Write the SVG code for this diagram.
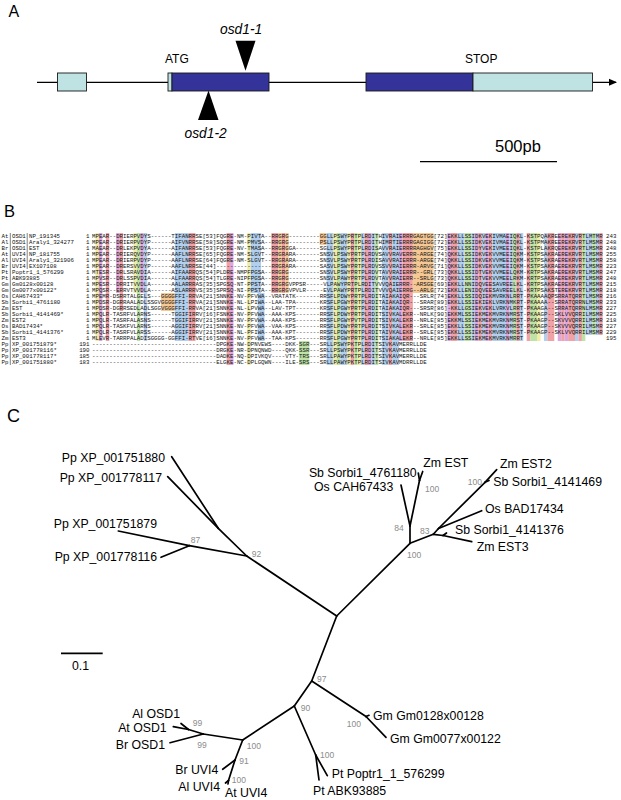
<svg xmlns="http://www.w3.org/2000/svg" width="621" height="800" viewBox="0 0 621 800">
<style>
.pl{font-family:"Liberation Sans",Arial,sans-serif;font-size:16px;fill:#000}
.ga{font-family:"Liberation Sans",Arial,sans-serif;font-size:12px;fill:#000}
.it{font-family:"Liberation Sans",Arial,sans-serif;font-size:13.8px;font-style:italic;fill:#000}
.lbl{font-family:"Liberation Sans",Arial,sans-serif;font-size:12.3px;fill:#000}
.bs{font-family:"Liberation Sans",Arial,sans-serif;font-size:8.5px;fill:#8c8c8c}
.sq{font-family:"Liberation Mono","Courier New",monospace;font-size:5.75px;fill:#111}
.br{stroke:#000;stroke-width:1.7;fill:none;stroke-linecap:round}
.ex{stroke:#1a1a1a;stroke-width:0.9}
.dk{fill:#333399}.lt{fill:#bfe2e2}
.r{fill:#f0a2a6}.b{fill:#b2cfee}.g{fill:#bfe3a6}.m{fill:#dea6de}.y{fill:#f1eda2}.o{fill:#f5c894}
</style>
<defs>
<marker id="ah" markerWidth="8" markerHeight="8" refX="7" refY="4" orient="auto" markerUnits="userSpaceOnUse"><path d="M0,0.5 L8,4 L0,7.5 Z" fill="#000"/></marker>
</defs>
<rect width="621" height="800" fill="#fff"/>

<!-- Panel A -->
<text class="pl" x="8.5" y="16.7">A</text>
<g id="gene">
<line x1="37" y1="82.3" x2="616" y2="82.3" stroke="#000" stroke-width="1.2" marker-end="url(#ah)"/>
<rect class="lt ex" x="57.5" y="73" width="29" height="18"/>
<rect class="lt ex" x="168" y="73" width="4" height="18"/>
<rect class="dk ex" x="172" y="73" width="97" height="18"/>
<rect class="dk ex" x="366" y="73" width="107" height="18"/>
<rect class="lt ex" x="473" y="73" width="119.5" height="18"/>
</g>
<g id="atg"><text class="ga" x="165" y="62.7">ATG</text></g>
<g id="stop"><text class="ga" x="465" y="62.7">STOP</text></g>
<g id="osd1-1"><text class="it" x="220" y="34.3">osd1-1</text><polygon points="235.5,40.7 255.5,40.7 245.5,70.7" fill="#000"/></g>
<g id="osd1-2"><polygon points="198,120 218.5,120 208.5,90.5" fill="#000"/><text class="it" x="184.5" y="138.3">osd1-2</text></g>
<g id="scaleA"><text class="pl" x="495" y="151.7" style="font-size:16.5px">500pb</text><line x1="420" y1="161.7" x2="557" y2="161.7" stroke="#000" stroke-width="1.2"/></g>

<!-- Panel B -->
<text class="pl" x="4" y="216.7" style="font-size:16.5px">B</text>
<g id="alignment">
<g id="colours">
<rect class="y" x="95.45" y="233" width="3.45" height="108"/>
<rect class="m" x="98.9" y="233" width="3.45" height="108"/>
<rect class="r" x="105.8" y="233" width="3.45" height="108"/>
<rect class="m" x="116.15" y="233" width="3.45" height="60"/>
<rect class="r" x="119.6" y="233" width="3.45" height="78"/>
<rect class="y" x="133.4" y="233" width="3.45" height="60"/>
<rect class="g" x="136.85" y="233" width="3.45" height="108"/>
<rect class="m" x="140.3" y="233" width="3.45" height="60"/>
<rect class="b" x="143.75" y="233" width="3.45" height="108"/>
<rect class="o" x="161" y="293" width="13.8" height="18"/>
<rect class="b" x="174.8" y="233" width="13.8" height="108"/>
<rect class="r" x="188.6" y="233" width="6.9" height="108"/>
<rect class="r" x="226.55" y="233" width="3.45" height="132"/>
<rect class="m" x="230" y="233" width="3.45" height="132"/>
<rect class="y" x="247.25" y="233" width="3.45" height="132"/>
<rect class="b" x="250.7" y="233" width="10.35" height="60"/>
<rect class="b" x="257.6" y="293" width="6.9" height="48"/>
<rect class="r" x="271.4" y="233" width="6.9" height="60"/>
<rect class="o" x="278.3" y="233" width="3.45" height="60"/>
<rect class="r" x="281.75" y="233" width="3.45" height="60"/>
<rect class="o" x="285.2" y="233" width="3.45" height="60"/>
<rect class="g" x="299" y="341" width="10.35" height="24"/>
<rect class="o" x="319.7" y="233" width="6.9" height="12"/>
<rect class="b" x="326.6" y="233" width="6.9" height="132"/>
<rect class="y" x="333.5" y="233" width="3.45" height="132"/>
<rect class="g" x="336.95" y="233" width="3.45" height="132"/>
<rect class="b" x="340.4" y="233" width="6.9" height="132"/>
<rect class="y" x="347.3" y="233" width="3.45" height="132"/>
<rect class="r" x="350.75" y="233" width="3.45" height="132"/>
<rect class="g" x="354.2" y="233" width="3.45" height="132"/>
<rect class="y" x="357.65" y="233" width="3.45" height="132"/>
<rect class="b" x="361.1" y="233" width="3.45" height="132"/>
<rect class="r" x="364.55" y="233" width="3.45" height="132"/>
<rect class="m" x="368" y="233" width="3.45" height="132"/>
<rect class="b" x="371.45" y="233" width="3.45" height="132"/>
<rect class="g" x="374.9" y="233" width="3.45" height="132"/>
<rect class="b" x="381.8" y="233" width="6.9" height="132"/>
<rect class="r" x="388.7" y="233" width="3.45" height="132"/>
<rect class="b" x="392.15" y="233" width="6.9" height="132"/>
<rect class="m" x="399.05" y="233" width="3.45" height="108"/>
<rect class="r" x="402.5" y="233" width="10.35" height="108"/>
<rect class="o" x="412.85" y="233" width="20.7" height="60"/>
<rect class="m" x="447.35" y="233" width="3.45" height="108"/>
<rect class="r" x="450.8" y="233" width="6.9" height="108"/>
<rect class="b" x="457.7" y="233" width="6.9" height="108"/>
<rect class="g" x="464.6" y="233" width="6.9" height="108"/>
<rect class="b" x="471.5" y="233" width="3.45" height="108"/>
<rect class="m" x="474.95" y="233" width="3.45" height="108"/>
<rect class="r" x="478.4" y="233" width="3.45" height="108"/>
<rect class="b" x="481.85" y="233" width="3.45" height="108"/>
<rect class="m" x="485.3" y="233" width="3.45" height="108"/>
<rect class="r" x="488.75" y="233" width="3.45" height="108"/>
<rect class="b" x="492.2" y="233" width="13.8" height="108"/>
<rect class="m" x="506" y="233" width="3.45" height="108"/>
<rect class="b" x="509.45" y="233" width="3.45" height="108"/>
<rect class="g" x="512.9" y="233" width="3.45" height="108"/>
<rect class="r" x="516.35" y="233" width="3.45" height="108"/>
<rect class="b" x="519.8" y="233" width="3.45" height="108"/>
<rect class="r" x="526.7" y="233" width="3.45" height="108"/>
<rect class="g" x="530.15" y="233" width="6.9" height="108"/>
<rect class="y" x="537.05" y="233" width="3.45" height="108"/>
<rect class="b" x="543.95" y="233" width="3.45" height="108"/>
<rect class="r" x="547.4" y="233" width="6.9" height="108"/>
<rect class="m" x="557.75" y="233" width="3.45" height="108"/>
<rect class="r" x="561.2" y="233" width="3.45" height="108"/>
<rect class="m" x="564.65" y="233" width="3.45" height="108"/>
<rect class="r" x="568.1" y="233" width="6.9" height="108"/>
<rect class="b" x="575" y="233" width="3.45" height="108"/>
<rect class="r" x="578.45" y="233" width="3.45" height="108"/>
<rect class="g" x="581.9" y="233" width="3.45" height="108"/>
<rect class="b" x="585.35" y="233" width="6.9" height="102"/>
<rect class="g" x="592.25" y="233" width="3.45" height="102"/>
<rect class="b" x="595.7" y="233" width="3.45" height="102"/>
<rect class="r" x="599.15" y="233" width="3.45" height="102"/>
</g>
<line x1="10.3" y1="233" x2="10.3" y2="365" stroke="#000" stroke-width="0.5"/>
<line x1="27.2" y1="233" x2="27.2" y2="269" stroke="#000" stroke-width="0.5"/>
<g class="sq">
<text x="1.5" y="238">At</text><text x="12" y="238">OSD1</text><text x="29" y="238">NP_191345</text>
<text x="1.5" y="244">Al</text><text x="12" y="244">OSD1</text><text x="29" y="244">Araly1_324277</text>
<text x="1.5" y="250">Br</text><text x="12" y="250">OSD1</text><text x="29" y="250">EST</text>
<text x="1.5" y="256">At</text><text x="12" y="256">UVI4</text><text x="29" y="256">NP_181755</text>
<text x="1.5" y="262">Al</text><text x="12" y="262">UVI4</text><text x="29" y="262">Araly1_321906</text>
<text x="1.5" y="268">Br</text><text x="12" y="268">UVI4</text><text x="29" y="268">EX107108</text>
<text x="1.5" y="274">Pt</text><text x="12" y="274">Poptr1_1_576299</text>
<text x="1.5" y="280">Pt</text><text x="12" y="280">ABK93885</text>
<text x="1.5" y="286">Gm</text><text x="12" y="286">Gm0128x00128</text>
<text x="1.5" y="292">Gm</text><text x="12" y="292">Gm0077x00122*</text>
<text x="1.5" y="298">Os</text><text x="12" y="298">CAH67433*</text>
<text x="1.5" y="304">Sb</text><text x="12" y="304">Sorbi1_4761180</text>
<text x="1.5" y="310">Zm</text><text x="12" y="310">EST</text>
<text x="1.5" y="316">Sb</text><text x="12" y="316">Sorbi1_4141469*</text>
<text x="1.5" y="322">Zm</text><text x="12" y="322">EST2</text>
<text x="1.5" y="328">Os</text><text x="12" y="328">BAD17434*</text>
<text x="1.5" y="334">Sb</text><text x="12" y="334">Sorbi1_4141376*</text>
<text x="1.5" y="340">Zm</text><text x="12" y="340">EST3</text>
<text x="1.5" y="346">Pp</text><text x="12" y="346">XP_001751879*</text>
<text x="1.5" y="352">Pp</text><text x="12" y="352">XP_001778116*</text>
<text x="1.5" y="358">Pp</text><text x="12" y="358">XP_001778117*</text>
<text x="1.5" y="364">Pp</text><text x="12" y="364">XP_001751880*</text>
</g>
<g class="sq" text-anchor="end">
<text x="89.5" y="238">1</text><text x="89.5" y="244">1</text><text x="89.5" y="250">1</text><text x="89.5" y="256">1</text><text x="89.5" y="262">1</text><text x="89.5" y="268">1</text><text x="89.5" y="274">1</text><text x="89.5" y="280">1</text><text x="89.5" y="286">1</text><text x="89.5" y="292">1</text><text x="89.5" y="298">1</text><text x="89.5" y="304">1</text><text x="89.5" y="310">1</text><text x="89.5" y="316">1</text><text x="89.5" y="322">1</text><text x="89.5" y="328">1</text><text x="89.5" y="334">1</text><text x="89.5" y="340">1</text>
<text x="89.5" y="346">191</text><text x="89.5" y="352">190</text><text x="89.5" y="358">185</text><text x="89.5" y="364">183</text>
</g>
<g class="sq">
<text x="92" y="238">MPEAR--DRIERPVDYS------TIFANRRSE[53]FQGRE-NM-PIVTA--RRGRG---------GGLLPSWYPRTPLRDITHIVRAIERRRGAGTGG[72]EKKLLSSIDKVEKIVMAEIQKL-KSTPQAKREEREKRVRTLMTMR</text>
<text x="92" y="244">MPEAR--DRIERPVDYP------AIFVNRRSE[58]SQGRE-NM-PMVSA--RRGRG---------PSLLPSWYPRTPLRDITHIMRTIERRRGAGIGG[72]EKKLLSSIDKVEKIVMAEIQKL-KSTPMAKREEREKRVRTLMSMR</text>
<text x="92" y="250">MAEAR--DRLEKPVDYA------AIFANRRSE[53]FQGRE-NV-TMASA--RRGRGGA-------SGLLPSWYPRTPLRDISAVVRAIERRRRAGHGV[75]EKKLLSSIDYVEKIVMEEIQKL-KSTPLAKRQEREKRVRTLMSMR</text>
<text x="92" y="256">MPEAR--DRIERQVDYP------AAFLNRRSE[65]FQGRE-NM-SLGVT--RRGRARA-------SNSVLPSWYPRTPLRDVSAVVRAVERRR-ARGE[74]QKKLLSSIDKVEKVVMEEIQKM-KSTPSAKRAEREKRVRTLMSMR</text>
<text x="92" y="262">MPEAR--DRIERPVDYP------AAFLNRRSE[64]FQGRE-NM-SLGVT--RRGRARA-------SNSVLPSWYPRTPLRDISAVVRAIERRR-ARGE[74]QKKLLSSIDKVEKVVMEEIQKM-KSTPSAKRAEREKRVRTLMSMR</text>
<text x="92" y="268">MPEAR--DRERSVVDYP------AAFLNRRSE[44]----------------RRGRARA-------SASVLPSWYPRTPLRDVSSVVRAIERRR-ARVG[71]QKKLLSSIDKVEKVVMEEIQKM-KSTPSAKRAEREKRVRTLMSMR</text>
<text x="92" y="274">MTESR--DRLSRAVDIA------AIFAARRQS[54]PLDRE-NMPFPGSA--RRGRG---------SNSVLPSWYPRTPLRDVTAVVRAIERRR--GRL[73]QKKLLSSIDTVEKVVMEELQKM-KRTPSAKRAEREKRVRTLMSMR</text>
<text x="92" y="280">MPVSR--DRLSSPVDIA------ALFAARRQS[54]TLGRE-NIPFPGSA--RRGRG---------SNSVLPAWYPRTPLRDVTAVVRAIERR--SRLG[73]QKKLLSSIDTVEKVVMEELRKM-KRTPSAKRAEREKRVRTLMSMR</text>
<text x="92" y="286">MPESR--DRRITVVDLA------AALARRRAS[35]SPGSQ-NT-PPSTA--RRGRGVPPSR-----VLPAWYPRTPLRDITVVVQAIERRR--ARSGE[69]EKKLLNNIDQVEESAVREELKL-KRTPSAKRAEREKRVRTLMSMR</text>
<text x="92" y="292">MPQSR--ERRVTVVDLA------ASLARRRVS[35]SPRSQ-NI-PPSTA--RRGRGVPVLR-----EVLPAWYPRTPLRDITVVVQAIERRG--ARLG[72]EKKLLENIDQVEESAVREELKL-KRTPSAKSTEREKRVRTLMSMR</text>
<text x="92" y="298">MPEMR-DSRRTALGELS---GGGGFFI-RRVA[21]SNNKE-NV-PFVWA--VRATATK-------RRSFLPDWYPRTPLRDITAIAKAIQR---SRLR[74]EKKLLSSIDQIEKMVRKNLRRT-PKAAAAQPSRRATQRRTLMSMR</text>
<text x="92" y="304">MPDSR-DGRRAALADLSSGVGGGGFFI-RRVA[21]SNNKE-NL-LPIWA--LAA-TPA-------KRSFLPGWYPRTPLRDITAIAKAIQR---SRAR[89]EKKLLSSIEKIEKLVRKNMKRT-PKAAAA--SRRATQRRNLMSMR</text>
<text x="92" y="310">MPDSR-DGRRSEDLADLSGGVGGGFFI-RRVA[21]SNNKE-NL-LPVWA--LAV-TPT-------KRSFLPGWYPRTPLRDITAIAKAIQR---SRSR[86]-KKLLGSIEKVEKLVRKVLRRT-PKAAGA--SRRATQRRNLMSMR</text>
<text x="92" y="316">MPQLR-TASRFVLARNS------TGGIFIRRV[16]FSNKE-NV-PFVWA--AAA-KPS-------RRSFLPDWYPRTPLRDITSIVKALEKR--NRLK[90]EKKMLSSIEKMEKMVRKNMRST-PKAAGP--SKLVVQRRILMSMR</text>
<text x="92" y="322">MPQLR-TASRFALASNS------TGGIFIRRV[21]SNNKE-NV-PFVWA--AAA-KPS-------RRSFLPGWYPVTPLRDITSIVKALEKR--NRLE[85]EKKMLSSIEKMEKMVRKNMRST-PKAAGP--SKVVVQRRILMSMR</text>
<text x="92" y="328">MPQLR-TASKFVLARNS------AGGIFIRRV[21]SNNKE-NV-PFVWA--VAA-KPS-------RRSFLPDWYPRTPLRDITSIVKALEKR--SRLE[85]EKKLLSSIEKMEKMVRKNMRST-PKAAGP--SKVVVQRRILMSMR</text>
<text x="92" y="334">MPQLR-TASRFVLARSS------AGGIFIRRV[21]SNNKE-NL-PFIWA--AAA-KPT-------RRSFLPDWYPRTPLRDITAIVKALEKR--SRLE[85]EKKLLSSIEKMEKMVRKNMRST-PKAAGP--SKLVVQRRILMSMR</text>
<text x="92" y="340">MLEVR-TARRPALADISGGGG-GGFFI-RTVE[16]SNNKE-NV-PFVWA--TAA-KPS-------RRSFLPGWYPRTPLRDITSIAKALEKR--NRLE[85]EKKLLSSIEKMEKMVRKNMRRT</text>
<text x="92" y="346">------------------------------------DPGKE-NW-DPNVEWS----DKK-SGR---SRLLPSWYPKTPLRDITSIVKAVMERRLLDE</text>
<text x="92" y="352">------------------------------------DRGKE-NR-DPNQNWD----QKK-SSR---SRLLPSWYPKTPLRDITSIVKAVMERRLLDE</text>
<text x="92" y="358">------------------------------------DADKE-NQ-DPIVKQV----VTY-TRS---SRLLPAWYPKTPLRDITSIVKAVMERRLLDE</text>
<text x="92" y="364">------------------------------------ELGKE-NC-DPLGQWN----ILE-SRS---SRLLPAWYPKTPLRDITSIVKAVMDRRLLDE</text>
</g>
<g class="sq">
<text x="606" y="238">243</text><text x="606" y="244">248</text><text x="606" y="250">248</text><text x="606" y="256">255</text><text x="606" y="262">258</text><text x="606" y="268">223</text><text x="606" y="274">247</text><text x="606" y="280">248</text><text x="606" y="286">215</text><text x="606" y="292">218</text><text x="606" y="298">216</text><text x="606" y="304">233</text><text x="606" y="310">227</text><text x="606" y="316">225</text><text x="606" y="322">218</text><text x="606" y="328">227</text><text x="606" y="334">229</text><text x="606" y="340">195</text>
</g>
</g>

<!-- Panel C -->
<text class="pl" x="7" y="421.7" style="font-size:18px">C</text>
<g id="connectors">
<line class="br" x1="336.7" y1="616" x2="246.7" y2="556"/>
<line class="br" x1="246.7" y1="556" x2="218.3" y2="528.3"/>
<line class="br" x1="218.3" y1="528.3" x2="171.7" y2="456.7"/>
<line class="br" x1="218.3" y1="528.3" x2="167.7" y2="476.7"/>
<line class="br" x1="246.7" y1="556" x2="189.3" y2="545.7"/>
<line class="br" x1="189.3" y1="545.7" x2="118.3" y2="531"/>
<line class="br" x1="189.3" y1="545.7" x2="161" y2="557.3"/>
<line class="br" x1="336.7" y1="616" x2="410" y2="543.3"/>
<line class="br" x1="410" y1="543.3" x2="410" y2="526"/>
<line class="br" x1="410" y1="526" x2="401" y2="485"/>
<line class="br" x1="410" y1="526" x2="419.5" y2="480.5"/>
<line class="br" x1="419.5" y1="480.5" x2="422.7" y2="471.5"/>
<line class="br" x1="419.5" y1="480.5" x2="418.3" y2="473"/>
<line class="br" x1="410" y1="543.3" x2="433.3" y2="534.3"/>
<line class="br" x1="433.3" y1="534.3" x2="443" y2="535.5"/>
<line class="br" x1="443" y1="535.5" x2="471.7" y2="541.7"/>
<line class="br" x1="443" y1="535.5" x2="446.5" y2="533"/>
<line class="br" x1="433.3" y1="534.3" x2="438.5" y2="528.5"/>
<line class="br" x1="438.5" y1="528.5" x2="481.7" y2="510.7"/>
<line class="br" x1="438.5" y1="528.5" x2="485" y2="482.3"/>
<line class="br" x1="485" y1="482.3" x2="496.7" y2="469.7"/>
<line class="br" x1="485" y1="482.3" x2="489" y2="480.5"/>
<line class="br" x1="336.7" y1="616" x2="311.7" y2="681"/>
<line class="br" x1="311.7" y1="681" x2="366" y2="716.5"/>
<line class="br" x1="366" y1="716.5" x2="386" y2="737.3"/>
<line class="br" x1="366" y1="716.5" x2="369" y2="715.3"/>
<line class="br" x1="311.7" y1="681" x2="294.3" y2="706"/>
<line class="br" x1="294.3" y1="706" x2="315.7" y2="755"/>
<line class="br" x1="315.7" y1="755" x2="327.3" y2="775.7"/>
<line class="br" x1="315.7" y1="755" x2="319" y2="780"/>
<line class="br" x1="294.3" y1="706" x2="242.7" y2="740"/>
<line class="br" x1="242.7" y1="740" x2="203.3" y2="734"/>
<line class="br" x1="203.3" y1="734" x2="170" y2="742.7"/>
<line class="br" x1="203.3" y1="734" x2="188.5" y2="729.5"/>
<line class="br" x1="188.5" y1="729.5" x2="173.3" y2="726.7"/>
<line class="br" x1="188.5" y1="729.5" x2="181" y2="723.5"/>
<line class="br" x1="242.7" y1="740" x2="235" y2="760"/>
<line class="br" x1="235" y1="760" x2="222.7" y2="769.3"/>
<line class="br" x1="235" y1="760" x2="228.5" y2="780.5"/>
<line class="br" x1="228.5" y1="780.5" x2="225.5" y2="783"/>
<line class="br" x1="228.5" y1="780.5" x2="228" y2="784"/>
</g>
<g class="lbl">
<g id="pp1751880"><text x="165" y="461.5" text-anchor="end">Pp XP_001751880</text></g>
<g id="pp1778117"><text x="162" y="481.5" text-anchor="end">Pp XP_001778117</text></g>
<g id="pp1751879"><text x="157" y="527.5" text-anchor="end">Pp XP_001751879</text></g>
<g id="pp1778116"><text x="157" y="561" text-anchor="end">Pp XP_001778116</text></g>
<g id="sb4761180"><text x="416.7" y="476.5" text-anchor="end">Sb Sorbi1_4761180</text></g>
<g id="oscah"><text x="393.3" y="490.5" text-anchor="end">Os CAH67433</text></g>
<g id="zmest"><text x="423.3" y="467.3">Zm EST</text></g>
<g id="zmest2"><text x="500" y="468.3">Zm EST2</text></g>
<g id="sb4141469"><text x="493.3" y="486">Sb Sorbi1_4141469</text></g>
<g id="osbad"><text x="485" y="513.3">Os BAD17434</text></g>
<g id="sb4141376"><text x="455" y="534">Sb Sorbi1_4141376</text></g>
<g id="zmest3"><text x="476.7" y="550.7">Zm EST3</text></g>
<g id="gm0128"><text x="373" y="720">Gm Gm0128x00128</text></g>
<g id="gm0077"><text x="390" y="742.7">Gm Gm0077x00122</text></g>
<g id="ptpoptr"><text x="331.7" y="778.3">Pt Poptr1_1_576299</text></g>
<g id="ptabk"><text x="313" y="795">Pt ABK93885</text></g>
<g id="alosd1"><text x="180" y="718.3" text-anchor="end">Al OSD1</text></g>
<g id="atosd1"><text x="166.7" y="732.3" text-anchor="end">At OSD1</text></g>
<g id="brosd1"><text x="165" y="749" text-anchor="end">Br OSD1</text></g>
<g id="bruvi4"><text x="218.3" y="774" text-anchor="end">Br UVI4</text></g>
<g id="aluvi4"><text x="220" y="791" text-anchor="end">Al UVI4</text></g>
<g id="atuvi4"><text x="225" y="797.3">At UVI4</text></g>
</g>
<g id="bootstrap" class="bs">
<text x="190.7" y="543">87</text>
<text x="251.7" y="556.5">92</text>
<text x="394.3" y="530.5">84</text>
<text x="425" y="491.5">100</text>
<text x="420" y="533.5">83</text>
<text x="467.7" y="484.5">100</text>
<text x="407" y="557.5">100</text>
<text x="317" y="681.5">97</text>
<text x="300.7" y="710.5">90</text>
<text x="346.7" y="726.5">100</text>
<text x="320" y="757.5">100</text>
<text x="192.7" y="725.5">99</text>
<text x="197.3" y="748">99</text>
<text x="246.7" y="749">100</text>
<text x="239.3" y="763.5">91</text>
<text x="231.7" y="782.5">100</text>
</g>
<g id="scaleC">
<line x1="61" y1="653.3" x2="102.7" y2="653.3" stroke="#000" stroke-width="1.7"/>
<text class="lbl" x="80.5" y="669.5" text-anchor="middle">0.1</text>
</g>
</svg>
